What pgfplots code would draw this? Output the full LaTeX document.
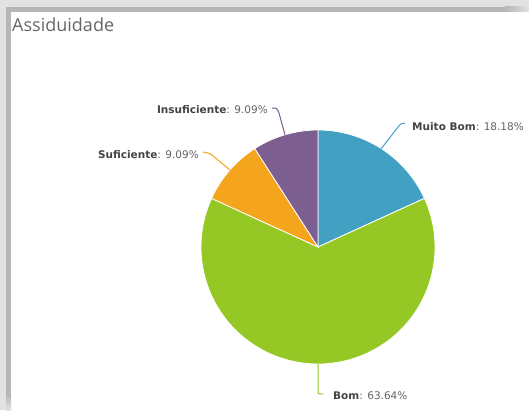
\documentclass[border=0pt]{standalone}
\usepackage{fontspec}
\setmainfont{DejaVu Sans}
\newfontfamily\titlefont{Open Sans}
\usepackage{pgfplots}
\pgfplotsset{compat=1.18}

\definecolor{cMuitoBom}{RGB}{66,161,194}
\definecolor{cBom}{RGB}{149,199,37}
\definecolor{cSuf}{RGB}{245,165,27}
\definecolor{cInsuf}{RGB}{125,94,145}
\definecolor{shLight}{RGB}{226,226,226}
\definecolor{shDark}{RGB}{182,182,182}
\definecolor{titlegray}{RGB}{102,102,102}
\definecolor{lblbold}{RGB}{68,68,68}
\definecolor{lblnorm}{RGB}{100,100,100}

% slice: #1 = cumulative percent before it, #2 = percent, #3 = colour
% starts at 12 o'clock, runs clockwise; centre (318,163), radius 117
\newcommand\slice[3]{%
  \fill[#3, draw=white, line width=0.8pt] (318,163)
    -- ({318+117*cos(90-3.6*#1)},{163+117*sin(90-3.6*#1)})
    arc[start angle={90-3.6*#1}, delta angle={-3.6*#2}, radius=117] -- cycle;}

\begin{document}
\begin{tikzpicture}
\begin{axis}[
    x=1pt, y=1pt,
    xmin=0, xmax=529, ymin=0, ymax=410,
    anchor=origin, at={(0,0)},
    hide axis, clip=false, disabledatascaling]

  % panel and its shadow
  \fill[white] (0,0) rectangle (529,410);
  \fill[shLight] (0,398) rectangle (529,410);
  \fill[shLight] (0,0) rectangle (11,410);
  \fill[shDark] (6,398) rectangle (505,403);
  \shade[left color=shDark, right color=shLight] (505,398) rectangle (529,403);
  \fill[shDark] (6,15) rectangle (11,403);
  \shade[top color=shDark, bottom color=shLight] (6,0) rectangle (11,15);

  \node[anchor=base west, inner sep=0, text=titlegray,
        font=\titlefont\fontsize{18}{20}\selectfont] at (12,378) {Assiduidade};

  % data (percent)
  \slice{0}{18.18}{cMuitoBom}
  \slice{18.18}{63.64}{cBom}
  \slice{81.82}{9.09}{cSuf}
  \slice{90.91}{9.09}{cInsuf}

  % connectors
  \draw[cMuitoBom, line width=1pt] (381,261) -- (398,283) .. controls (400,286) .. (405,287);
  \draw[cInsuf, line width=1pt] (285,275) -- (279,297) .. controls (277,302) .. (272,302);
  \draw[cSuf, line width=1pt] (230,240) -- (212,255) .. controls (209,257) .. (203,258);
  \draw[cBom, line width=1pt] (318,46) -- (318,20) .. controls (318,16) .. (323,16);

  % labels
  \tikzset{lbl/.style={inner sep=0, font=\fontsize{10.5}{12}\selectfont, text=lblnorm}}
  \node[lbl, anchor=west] at (412,283) {\textcolor{lblbold}{\textbf{Muito Bom}}: 18.18\%};
  \node[lbl, anchor=east] at (268,300) {\textcolor{lblbold}{\textbf{Insuficiente}}: 9.09\%};
  \node[lbl, anchor=east] at (199,255) {\textcolor{lblbold}{\textbf{Suficiente}}: 9.09\%};
  \node[lbl, anchor=west] at (333,14) {\textcolor{lblbold}{\textbf{Bom}}: 63.64\%};
\end{axis}
\end{tikzpicture}
\end{document}
